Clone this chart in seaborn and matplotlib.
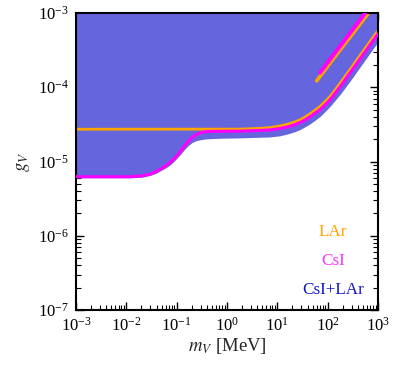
import numpy as np
import pandas as pd
import matplotlib
matplotlib.use("Agg")
import matplotlib.pyplot as plt
import seaborn as sns

# ---- data ----
m_lar = [0.001, 1.81, 4.53, 7, 11.3, 16, 22, 28.2, 35, 44.6, 55, 70.5, 85, 111, 140,
         176, 278, 440, 694, 1000]
g_lar = [2.72e-5, 2.73e-5, 2.80e-5, 2.86e-5, 3.01e-5, 3.18e-5, 3.40e-5, 3.64e-5,
         3.94e-5, 4.39e-5, 4.86e-5, 5.51e-5, 6.23e-5, 7.50e-5, 9.18e-5,
         1.13e-4, 1.73e-4, 2.68e-4, 4.13e-4, 5.81e-4]

m_csi = [0.001, 0.0118, 0.02, 0.0295, 0.038, 0.0467, 0.06, 0.0738, 0.086, 0.1, 0.12,
         0.143, 0.17, 0.202, 0.24, 0.291, 0.35, 0.459, 1.81, 4.53, 7, 11.3, 16, 22,
         28.2, 35, 44.6, 55, 70.5, 85, 111, 140, 176, 278, 440, 694, 1000]
g_csi = [6.24e-6, 6.24e-6, 6.38e-6, 6.75e-6, 7.22e-6, 7.80e-6, 8.70e-6, 9.70e-6,
         1.064e-5, 1.186e-5, 1.38e-5, 1.62e-5, 1.86e-5, 2.10e-5, 2.29e-5, 2.42e-5,
         2.50e-5, 2.54e-5, 2.56e-5, 2.62e-5, 2.66e-5, 2.78e-5, 2.92e-5, 3.12e-5,
         3.34e-5, 3.60e-5, 4.00e-5, 4.43e-5, 4.99e-5, 5.62e-5, 6.73e-5, 8.26e-5,
         1.01e-4, 1.56e-4, 2.40e-4, 3.71e-4, 5.21e-4]

m_lar_up = [60.5, 111, 176, 278, 440, 694]
g_lar_up = [1.22e-4, 2.10e-4, 3.17e-4, 4.72e-4, 7.09e-4, 1.06e-3]

m_csi_up = [70.5, 111, 176, 278, 440, 605]
g_csi_up = [1.57e-4, 2.37e-4, 3.56e-4, 5.36e-4, 8.07e-4, 1.077e-3]

m_comb = [0.001, 0.0118, 0.02, 0.0295, 0.038, 0.0467, 0.06, 0.0738, 0.086, 0.1, 0.12,
          0.143, 0.17, 0.202, 0.24, 0.291, 0.35, 0.459, 0.8, 1.81, 4.53, 7, 11.3, 16,
          22, 28.2, 35, 44.6, 55, 70.5, 85, 111, 140, 176, 278, 440, 694, 1000]
g_comb = [6.03e-6, 6.03e-6, 6.12e-6, 6.48e-6, 6.89e-6, 7.45e-6, 8.17e-6, 8.97e-6,
          9.85e-6, 1.097e-5, 1.26e-5, 1.45e-5, 1.64e-5, 1.80e-5, 1.90e-5, 1.96e-5,
          2.00e-5, 2.03e-5, 2.06e-5, 2.08e-5, 2.12e-5, 2.14e-5, 2.22e-5, 2.35e-5,
          2.51e-5, 2.69e-5, 2.92e-5, 3.22e-5, 3.56e-5, 4.04e-5, 4.57e-5, 5.51e-5,
          6.64e-5, 7.98e-5, 1.21e-4, 1.87e-4, 2.89e-4, 4.07e-4]

labels = ["LAr", "CsI", "CsI+LAr"]
label_colors = ["#FFA500", "#FF33FF", "#1515CC"]

x_lim = (1e-3, 1e3)
y_lim = (1e-7, 1e-3)

# ---- style ----
sns.set_theme(style="ticks")
plt.rcParams["font.family"] = ["serif"]
plt.rcParams["font.serif"] = ["Liberation Serif", "DejaVu Serif"]
plt.rcParams["mathtext.fontset"] = "stix"

fig = plt.figure(figsize=(3.98, 3.68), dpi=100)
ax = fig.add_axes([76/398, 1-310/368, (378-76)/398, (310-13)/368])
ax.set_xscale("log")
ax.set_yscale("log")

df_comb = pd.DataFrame({"m": m_comb, "g": g_comb})
ax.fill_between(df_comb["m"], df_comb["g"], y_lim[1], color="#6565DD", lw=0, zorder=1)

kw = dict(ax=ax, sort=False, estimator=None)
sns.lineplot(x=m_lar, y=g_lar, color="#FFA500", lw=2.0, zorder=2, **kw)
sns.lineplot(x=m_lar_up, y=g_lar_up, color="#FFA500", lw=2.6, zorder=2, **kw)
sns.lineplot(x=m_csi, y=g_csi, color="#FF00FF", lw=2.2, zorder=3, **kw)
sns.lineplot(x=m_csi_up, y=g_csi_up, color="#FF00FF", lw=2.8, zorder=3, **kw)

ax.set_xlim(*x_lim)
ax.set_ylim(*y_lim)

for lab, col, yy in zip(labels, label_colors, [0.263, 0.165, 0.067]):
    ax.text(0.851, yy, lab, transform=ax.transAxes, ha="center", va="center",
            color=col, fontsize=12.3)

ax.set_xlabel(r"$m_V$ [MeV]", fontsize=13.5, labelpad=1)
ax.set_ylabel(r"$g_V$", fontsize=13.5, labelpad=4)

for s in ax.spines.values():
    s.set_linewidth(1.5)
    s.set_color("black")
    s.set_visible(True)
ax.tick_params(which="both", direction="in", top=True, right=True, colors="black",
               labelsize=12)
ax.tick_params(which="major", length=6, width=1.0)
ax.tick_params(which="minor", length=3.5, width=0.8)
ax.tick_params(axis="y", pad=5)
ax.tick_params(axis="x", pad=5)
ax.xaxis.set_major_locator(matplotlib.ticker.LogLocator(base=10, numticks=10))
ax.xaxis.set_minor_locator(matplotlib.ticker.LogLocator(base=10, subs=np.arange(2, 10), numticks=20))
ax.yaxis.set_major_locator(matplotlib.ticker.LogLocator(base=10, numticks=10))
ax.yaxis.set_minor_locator(matplotlib.ticker.LogLocator(base=10, subs=np.arange(2, 10), numticks=20))
ax.xaxis.set_minor_formatter(matplotlib.ticker.NullFormatter())
ax.yaxis.set_minor_formatter(matplotlib.ticker.NullFormatter())

fig.savefig("out.png", dpi=100)
